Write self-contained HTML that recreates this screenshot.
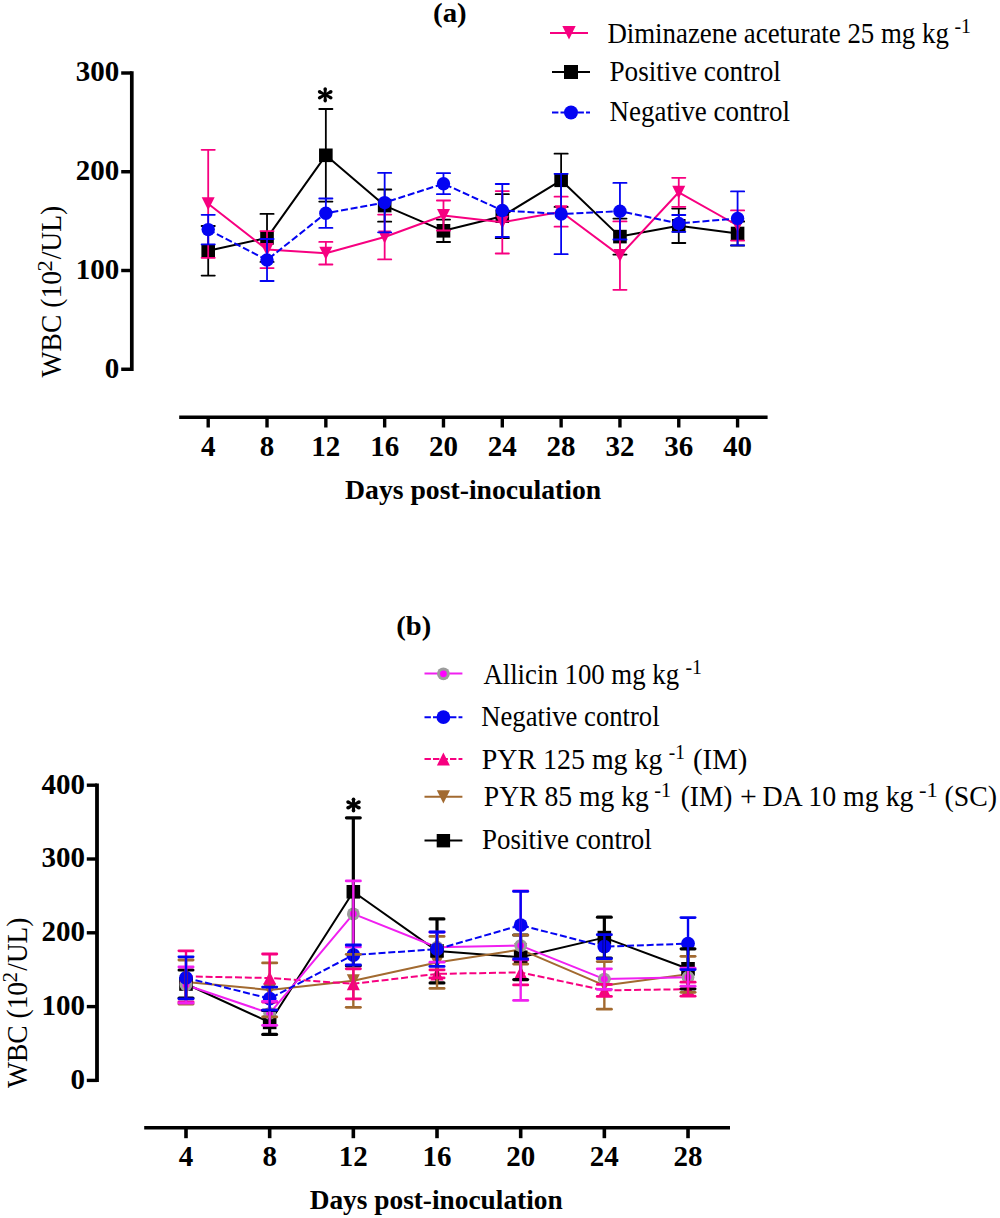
<!DOCTYPE html>
<html><head><meta charset="utf-8"><style>
html,body{margin:0;padding:0;background:#fff;}
body{width:1000px;height:1218px;overflow:hidden;}
svg{display:block;font-family:"Liberation Serif", serif;}
</style></head><body>
<svg width="1000" height="1218" viewBox="0 0 1000 1218">
<rect width="1000" height="1218" fill="#fff"/>
<line x1="131.8" y1="71.30" x2="131.8" y2="370.95" stroke="#000" stroke-width="3.7"/>
<line x1="121.2" y1="369.25" x2="131.8" y2="369.25" stroke="#000" stroke-width="3.45"/>
<text transform="translate(119.3,377.55) scale(0.98,1)" text-anchor="end" font-weight="bold" font-size="29.6">0</text>
<line x1="121.2" y1="270.50" x2="131.8" y2="270.50" stroke="#000" stroke-width="3.45"/>
<text transform="translate(119.3,278.80) scale(0.98,1)" text-anchor="end" font-weight="bold" font-size="29.6">100</text>
<line x1="121.2" y1="171.75" x2="131.8" y2="171.75" stroke="#000" stroke-width="3.45"/>
<text transform="translate(119.3,180.05) scale(0.98,1)" text-anchor="end" font-weight="bold" font-size="29.6">200</text>
<line x1="121.2" y1="73.00" x2="131.8" y2="73.00" stroke="#000" stroke-width="3.45"/>
<text transform="translate(119.3,81.30) scale(0.98,1)" text-anchor="end" font-weight="bold" font-size="29.6">300</text>
<line x1="179.2" y1="417.25" x2="767.6" y2="417.25" stroke="#000" stroke-width="3.6"/>
<line x1="208.20" y1="417" x2="208.20" y2="427.5" stroke="#000" stroke-width="3.4"/>
<text x="208.20" y="456.3" text-anchor="middle" font-weight="bold" font-size="29">4</text>
<line x1="267.02" y1="417" x2="267.02" y2="427.5" stroke="#000" stroke-width="3.4"/>
<text x="267.02" y="456.3" text-anchor="middle" font-weight="bold" font-size="29">8</text>
<line x1="325.84" y1="417" x2="325.84" y2="427.5" stroke="#000" stroke-width="3.4"/>
<text x="325.84" y="456.3" text-anchor="middle" font-weight="bold" font-size="29">12</text>
<line x1="384.66" y1="417" x2="384.66" y2="427.5" stroke="#000" stroke-width="3.4"/>
<text x="384.66" y="456.3" text-anchor="middle" font-weight="bold" font-size="29">16</text>
<line x1="443.48" y1="417" x2="443.48" y2="427.5" stroke="#000" stroke-width="3.4"/>
<text x="443.48" y="456.3" text-anchor="middle" font-weight="bold" font-size="29">20</text>
<line x1="502.30" y1="417" x2="502.30" y2="427.5" stroke="#000" stroke-width="3.4"/>
<text x="502.30" y="456.3" text-anchor="middle" font-weight="bold" font-size="29">24</text>
<line x1="561.12" y1="417" x2="561.12" y2="427.5" stroke="#000" stroke-width="3.4"/>
<text x="561.12" y="456.3" text-anchor="middle" font-weight="bold" font-size="29">28</text>
<line x1="619.94" y1="417" x2="619.94" y2="427.5" stroke="#000" stroke-width="3.4"/>
<text x="619.94" y="456.3" text-anchor="middle" font-weight="bold" font-size="29">32</text>
<line x1="678.76" y1="417" x2="678.76" y2="427.5" stroke="#000" stroke-width="3.4"/>
<text x="678.76" y="456.3" text-anchor="middle" font-weight="bold" font-size="29">36</text>
<line x1="737.58" y1="417" x2="737.58" y2="427.5" stroke="#000" stroke-width="3.4"/>
<text x="737.58" y="456.3" text-anchor="middle" font-weight="bold" font-size="29">40</text>
<g transform="translate(61.2,0) rotate(-90)"><text x="-377.40" y="0.00" font-size="29" font-weight="normal" textLength="106.42" lengthAdjust="spacingAndGlyphs">WBC (10</text><text x="-271.44" y="-9.00" font-size="21.5" font-weight="normal" textLength="11.23" lengthAdjust="spacingAndGlyphs">2</text><text x="-259.30" y="0.00" font-size="29" font-weight="normal" textLength="53.40" lengthAdjust="spacingAndGlyphs">/UL)</text></g>
<line x1="208.20" y1="226.00" x2="208.20" y2="275.60" stroke="#000" stroke-width="1.8"/><line x1="201.60" y1="226.00" x2="214.80" y2="226.00" stroke="#000" stroke-width="1.8" stroke-linecap="round"/><line x1="201.60" y1="275.60" x2="214.80" y2="275.60" stroke="#000" stroke-width="1.8" stroke-linecap="round"/><line x1="267.02" y1="213.90" x2="267.02" y2="261.90" stroke="#000" stroke-width="1.8"/><line x1="260.42" y1="213.90" x2="273.62" y2="213.90" stroke="#000" stroke-width="1.8" stroke-linecap="round"/><line x1="260.42" y1="261.90" x2="273.62" y2="261.90" stroke="#000" stroke-width="1.8" stroke-linecap="round"/><line x1="325.84" y1="109.00" x2="325.84" y2="201.60" stroke="#000" stroke-width="1.8"/><line x1="319.24" y1="109.00" x2="332.44" y2="109.00" stroke="#000" stroke-width="1.8" stroke-linecap="round"/><line x1="319.24" y1="201.60" x2="332.44" y2="201.60" stroke="#000" stroke-width="1.8" stroke-linecap="round"/><line x1="384.66" y1="189.50" x2="384.66" y2="221.70" stroke="#000" stroke-width="1.8"/><line x1="378.06" y1="189.50" x2="391.26" y2="189.50" stroke="#000" stroke-width="1.8" stroke-linecap="round"/><line x1="378.06" y1="221.70" x2="391.26" y2="221.70" stroke="#000" stroke-width="1.8" stroke-linecap="round"/><line x1="443.48" y1="219.60" x2="443.48" y2="242.00" stroke="#000" stroke-width="1.8"/><line x1="436.88" y1="219.60" x2="450.08" y2="219.60" stroke="#000" stroke-width="1.8" stroke-linecap="round"/><line x1="436.88" y1="242.00" x2="450.08" y2="242.00" stroke="#000" stroke-width="1.8" stroke-linecap="round"/><line x1="502.30" y1="194.20" x2="502.30" y2="238.20" stroke="#000" stroke-width="1.8"/><line x1="495.70" y1="194.20" x2="508.90" y2="194.20" stroke="#000" stroke-width="1.8" stroke-linecap="round"/><line x1="495.70" y1="238.20" x2="508.90" y2="238.20" stroke="#000" stroke-width="1.8" stroke-linecap="round"/><line x1="561.12" y1="153.70" x2="561.12" y2="206.90" stroke="#000" stroke-width="1.8"/><line x1="554.52" y1="153.70" x2="567.72" y2="153.70" stroke="#000" stroke-width="1.8" stroke-linecap="round"/><line x1="554.52" y1="206.90" x2="567.72" y2="206.90" stroke="#000" stroke-width="1.8" stroke-linecap="round"/><line x1="619.94" y1="218.60" x2="619.94" y2="254.60" stroke="#000" stroke-width="1.8"/><line x1="613.34" y1="218.60" x2="626.54" y2="218.60" stroke="#000" stroke-width="1.8" stroke-linecap="round"/><line x1="613.34" y1="254.60" x2="626.54" y2="254.60" stroke="#000" stroke-width="1.8" stroke-linecap="round"/><line x1="678.76" y1="208.60" x2="678.76" y2="243.00" stroke="#000" stroke-width="1.8"/><line x1="672.16" y1="208.60" x2="685.36" y2="208.60" stroke="#000" stroke-width="1.8" stroke-linecap="round"/><line x1="672.16" y1="243.00" x2="685.36" y2="243.00" stroke="#000" stroke-width="1.8" stroke-linecap="round"/><line x1="737.58" y1="221.50" x2="737.58" y2="245.50" stroke="#000" stroke-width="1.8"/><line x1="730.98" y1="221.50" x2="744.18" y2="221.50" stroke="#000" stroke-width="1.8" stroke-linecap="round"/><line x1="730.98" y1="245.50" x2="744.18" y2="245.50" stroke="#000" stroke-width="1.8" stroke-linecap="round"/>
<polyline points="208.20,250.80 267.02,237.90 325.84,155.30 384.66,205.60 443.48,230.80 502.30,216.20 561.12,180.30 619.94,236.60 678.76,225.80 737.58,233.50" fill="none" stroke="#000" stroke-width="2" stroke-linejoin="round"/>
<rect x="201.40" y="244.00" width="13.60" height="13.60" fill="#000"/><rect x="260.22" y="231.10" width="13.60" height="13.60" fill="#000"/><rect x="319.04" y="148.50" width="13.60" height="13.60" fill="#000"/><rect x="377.86" y="198.80" width="13.60" height="13.60" fill="#000"/><rect x="436.68" y="224.00" width="13.60" height="13.60" fill="#000"/><rect x="495.50" y="209.40" width="13.60" height="13.60" fill="#000"/><rect x="554.32" y="173.50" width="13.60" height="13.60" fill="#000"/><rect x="613.14" y="229.80" width="13.60" height="13.60" fill="#000"/><rect x="671.96" y="219.00" width="13.60" height="13.60" fill="#000"/><rect x="730.78" y="226.70" width="13.60" height="13.60" fill="#000"/>
<line x1="208.20" y1="149.80" x2="208.20" y2="257.80" stroke="#f70080" stroke-width="1.8"/><line x1="201.60" y1="149.80" x2="214.80" y2="149.80" stroke="#f70080" stroke-width="1.8" stroke-linecap="round"/><line x1="201.60" y1="257.80" x2="214.80" y2="257.80" stroke="#f70080" stroke-width="1.8" stroke-linecap="round"/><line x1="267.02" y1="231.10" x2="267.02" y2="268.10" stroke="#f70080" stroke-width="1.8"/><line x1="260.42" y1="231.10" x2="273.62" y2="231.10" stroke="#f70080" stroke-width="1.8" stroke-linecap="round"/><line x1="260.42" y1="268.10" x2="273.62" y2="268.10" stroke="#f70080" stroke-width="1.8" stroke-linecap="round"/><line x1="325.84" y1="241.90" x2="325.84" y2="264.50" stroke="#f70080" stroke-width="1.8"/><line x1="319.24" y1="241.90" x2="332.44" y2="241.90" stroke="#f70080" stroke-width="1.8" stroke-linecap="round"/><line x1="319.24" y1="264.50" x2="332.44" y2="264.50" stroke="#f70080" stroke-width="1.8" stroke-linecap="round"/><line x1="384.66" y1="214.60" x2="384.66" y2="259.40" stroke="#f70080" stroke-width="1.8"/><line x1="378.06" y1="214.60" x2="391.26" y2="214.60" stroke="#f70080" stroke-width="1.8" stroke-linecap="round"/><line x1="378.06" y1="259.40" x2="391.26" y2="259.40" stroke="#f70080" stroke-width="1.8" stroke-linecap="round"/><line x1="443.48" y1="200.50" x2="443.48" y2="230.50" stroke="#f70080" stroke-width="1.8"/><line x1="436.88" y1="200.50" x2="450.08" y2="200.50" stroke="#f70080" stroke-width="1.8" stroke-linecap="round"/><line x1="436.88" y1="230.50" x2="450.08" y2="230.50" stroke="#f70080" stroke-width="1.8" stroke-linecap="round"/><line x1="502.30" y1="191.10" x2="502.30" y2="253.50" stroke="#f70080" stroke-width="1.8"/><line x1="495.70" y1="191.10" x2="508.90" y2="191.10" stroke="#f70080" stroke-width="1.8" stroke-linecap="round"/><line x1="495.70" y1="253.50" x2="508.90" y2="253.50" stroke="#f70080" stroke-width="1.8" stroke-linecap="round"/><line x1="561.12" y1="196.70" x2="561.12" y2="226.70" stroke="#f70080" stroke-width="1.8"/><line x1="554.52" y1="196.70" x2="567.72" y2="196.70" stroke="#f70080" stroke-width="1.8" stroke-linecap="round"/><line x1="554.52" y1="226.70" x2="567.72" y2="226.70" stroke="#f70080" stroke-width="1.8" stroke-linecap="round"/><line x1="619.94" y1="221.40" x2="619.94" y2="289.80" stroke="#f70080" stroke-width="1.8"/><line x1="613.34" y1="221.40" x2="626.54" y2="221.40" stroke="#f70080" stroke-width="1.8" stroke-linecap="round"/><line x1="613.34" y1="289.80" x2="626.54" y2="289.80" stroke="#f70080" stroke-width="1.8" stroke-linecap="round"/><line x1="678.76" y1="177.80" x2="678.76" y2="206.80" stroke="#f70080" stroke-width="1.8"/><line x1="672.16" y1="177.80" x2="685.36" y2="177.80" stroke="#f70080" stroke-width="1.8" stroke-linecap="round"/><line x1="672.16" y1="206.80" x2="685.36" y2="206.80" stroke="#f70080" stroke-width="1.8" stroke-linecap="round"/><line x1="737.58" y1="210.40" x2="737.58" y2="240.60" stroke="#f70080" stroke-width="1.8"/><line x1="730.98" y1="210.40" x2="744.18" y2="210.40" stroke="#f70080" stroke-width="1.8" stroke-linecap="round"/><line x1="730.98" y1="240.60" x2="744.18" y2="240.60" stroke="#f70080" stroke-width="1.8" stroke-linecap="round"/>
<polyline points="208.20,203.80 267.02,249.60 325.84,253.20 384.66,237.00 443.48,215.50 502.30,222.30 561.12,211.70 619.94,255.60 678.76,192.30 737.58,225.50" fill="none" stroke="#f70080" stroke-width="2" stroke-linejoin="round"/>
<path d="M201.70,197.30 L214.70,197.30 L208.20,210.30 Z" fill="#f70080"/><path d="M260.52,243.10 L273.52,243.10 L267.02,256.10 Z" fill="#f70080"/><path d="M319.34,246.70 L332.34,246.70 L325.84,259.70 Z" fill="#f70080"/><path d="M378.16,230.50 L391.16,230.50 L384.66,243.50 Z" fill="#f70080"/><path d="M436.98,209.00 L449.98,209.00 L443.48,222.00 Z" fill="#f70080"/><path d="M495.80,215.80 L508.80,215.80 L502.30,228.80 Z" fill="#f70080"/><path d="M554.62,205.20 L567.62,205.20 L561.12,218.20 Z" fill="#f70080"/><path d="M613.44,249.10 L626.44,249.10 L619.94,262.10 Z" fill="#f70080"/><path d="M672.26,185.80 L685.26,185.80 L678.76,198.80 Z" fill="#f70080"/><path d="M731.08,219.00 L744.08,219.00 L737.58,232.00 Z" fill="#f70080"/>
<line x1="208.20" y1="214.80" x2="208.20" y2="244.40" stroke="#0404f2" stroke-width="1.8"/><line x1="201.60" y1="214.80" x2="214.80" y2="214.80" stroke="#0404f2" stroke-width="1.8" stroke-linecap="round"/><line x1="201.60" y1="244.40" x2="214.80" y2="244.40" stroke="#0404f2" stroke-width="1.8" stroke-linecap="round"/><line x1="267.02" y1="239.00" x2="267.02" y2="281.00" stroke="#0404f2" stroke-width="1.8"/><line x1="260.42" y1="239.00" x2="273.62" y2="239.00" stroke="#0404f2" stroke-width="1.8" stroke-linecap="round"/><line x1="260.42" y1="281.00" x2="273.62" y2="281.00" stroke="#0404f2" stroke-width="1.8" stroke-linecap="round"/><line x1="325.84" y1="198.50" x2="325.84" y2="227.90" stroke="#0404f2" stroke-width="1.8"/><line x1="319.24" y1="198.50" x2="332.44" y2="198.50" stroke="#0404f2" stroke-width="1.8" stroke-linecap="round"/><line x1="319.24" y1="227.90" x2="332.44" y2="227.90" stroke="#0404f2" stroke-width="1.8" stroke-linecap="round"/><line x1="384.66" y1="172.90" x2="384.66" y2="232.30" stroke="#0404f2" stroke-width="1.8"/><line x1="378.06" y1="172.90" x2="391.26" y2="172.90" stroke="#0404f2" stroke-width="1.8" stroke-linecap="round"/><line x1="378.06" y1="232.30" x2="391.26" y2="232.30" stroke="#0404f2" stroke-width="1.8" stroke-linecap="round"/><line x1="443.48" y1="173.20" x2="443.48" y2="194.20" stroke="#0404f2" stroke-width="1.8"/><line x1="436.88" y1="173.20" x2="450.08" y2="173.20" stroke="#0404f2" stroke-width="1.8" stroke-linecap="round"/><line x1="436.88" y1="194.20" x2="450.08" y2="194.20" stroke="#0404f2" stroke-width="1.8" stroke-linecap="round"/><line x1="502.30" y1="184.00" x2="502.30" y2="237.00" stroke="#0404f2" stroke-width="1.8"/><line x1="495.70" y1="184.00" x2="508.90" y2="184.00" stroke="#0404f2" stroke-width="1.8" stroke-linecap="round"/><line x1="495.70" y1="237.00" x2="508.90" y2="237.00" stroke="#0404f2" stroke-width="1.8" stroke-linecap="round"/><line x1="561.12" y1="173.80" x2="561.12" y2="254.20" stroke="#0404f2" stroke-width="1.8"/><line x1="554.52" y1="173.80" x2="567.72" y2="173.80" stroke="#0404f2" stroke-width="1.8" stroke-linecap="round"/><line x1="554.52" y1="254.20" x2="567.72" y2="254.20" stroke="#0404f2" stroke-width="1.8" stroke-linecap="round"/><line x1="619.94" y1="182.90" x2="619.94" y2="239.50" stroke="#0404f2" stroke-width="1.8"/><line x1="613.34" y1="182.90" x2="626.54" y2="182.90" stroke="#0404f2" stroke-width="1.8" stroke-linecap="round"/><line x1="613.34" y1="239.50" x2="626.54" y2="239.50" stroke="#0404f2" stroke-width="1.8" stroke-linecap="round"/><line x1="678.76" y1="215.00" x2="678.76" y2="231.80" stroke="#0404f2" stroke-width="1.8"/><line x1="672.16" y1="215.00" x2="685.36" y2="215.00" stroke="#0404f2" stroke-width="1.8" stroke-linecap="round"/><line x1="672.16" y1="231.80" x2="685.36" y2="231.80" stroke="#0404f2" stroke-width="1.8" stroke-linecap="round"/><line x1="737.58" y1="191.40" x2="737.58" y2="245.40" stroke="#0404f2" stroke-width="1.8"/><line x1="730.98" y1="191.40" x2="744.18" y2="191.40" stroke="#0404f2" stroke-width="1.8" stroke-linecap="round"/><line x1="730.98" y1="245.40" x2="744.18" y2="245.40" stroke="#0404f2" stroke-width="1.8" stroke-linecap="round"/>
<polyline points="208.20,229.60 267.02,260.00 325.84,213.20 384.66,202.60 443.48,183.70 502.30,210.50 561.12,214.00 619.94,211.20 678.76,223.40 737.58,218.40" fill="none" stroke="#0404f2" stroke-width="2" stroke-linejoin="round" stroke-dasharray="7,2.8"/>
<circle cx="208.20" cy="229.60" r="6.70" fill="#0404f2"/><circle cx="267.02" cy="260.00" r="6.70" fill="#0404f2"/><circle cx="325.84" cy="213.20" r="6.70" fill="#0404f2"/><circle cx="384.66" cy="202.60" r="6.70" fill="#0404f2"/><circle cx="443.48" cy="183.70" r="6.70" fill="#0404f2"/><circle cx="502.30" cy="210.50" r="6.70" fill="#0404f2"/><circle cx="561.12" cy="214.00" r="6.70" fill="#0404f2"/><circle cx="619.94" cy="211.20" r="6.70" fill="#0404f2"/><circle cx="678.76" cy="223.40" r="6.70" fill="#0404f2"/><circle cx="737.58" cy="218.40" r="6.70" fill="#0404f2"/>
<path d="M326.32,94.80 L326.85,88.85 L323.55,88.85 L324.07,94.80 Z" fill="#000"/><circle cx="325.20" cy="88.85" r="1.65" fill="#000"/><path d="M324.07,94.80 L323.55,100.75 L326.85,100.75 L326.32,94.80 Z" fill="#000"/><circle cx="325.20" cy="100.75" r="1.65" fill="#000"/><path d="M325.73,95.79 L331.67,93.23 L330.12,90.32 L324.67,93.81 Z" fill="#000"/><circle cx="330.90" cy="91.77" r="1.65" fill="#000"/><path d="M325.73,93.81 L320.28,90.32 L318.73,93.23 L324.67,95.79 Z" fill="#000"/><circle cx="319.50" cy="91.77" r="1.65" fill="#000"/><path d="M324.67,93.81 L318.73,96.37 L320.28,99.28 L325.73,95.79 Z" fill="#000"/><circle cx="319.50" cy="97.83" r="1.65" fill="#000"/><path d="M324.67,95.79 L330.12,99.28 L331.67,96.37 L325.73,93.81 Z" fill="#000"/><circle cx="330.90" cy="97.83" r="1.65" fill="#000"/><circle cx="325.20" cy="94.80" r="2.02" fill="#000"/>
<line x1="550" y1="33" x2="588" y2="33" stroke="#f70080" stroke-width="2"/><path d="M562.30,26.05 L575.70,26.05 L569.00,39.45 Z" fill="#f70080"/>
<line x1="552" y1="72" x2="590" y2="72" stroke="#000" stroke-width="2"/><rect x="564.00" y="65.00" width="14.00" height="14.00" fill="#000"/>
<line x1="552" y1="112.5" x2="590" y2="112.5" stroke="#0404f2" stroke-width="2" stroke-dasharray="6.4,2.1"/><circle cx="571.00" cy="112.50" r="7.00" fill="#0404f2"/>
<line x1="97" y1="783.50" x2="97" y2="1082.10" stroke="#000" stroke-width="3.8"/>
<line x1="86.8" y1="1080.40" x2="97" y2="1080.40" stroke="#000" stroke-width="3.4"/>
<text transform="translate(84.9,1088.70) scale(0.98,1)" text-anchor="end" font-weight="bold" font-size="29.6">0</text>
<line x1="86.8" y1="1006.60" x2="97" y2="1006.60" stroke="#000" stroke-width="3.4"/>
<text transform="translate(84.9,1014.90) scale(0.98,1)" text-anchor="end" font-weight="bold" font-size="29.6">100</text>
<line x1="86.8" y1="932.80" x2="97" y2="932.80" stroke="#000" stroke-width="3.4"/>
<text transform="translate(84.9,941.10) scale(0.98,1)" text-anchor="end" font-weight="bold" font-size="29.6">200</text>
<line x1="86.8" y1="859.00" x2="97" y2="859.00" stroke="#000" stroke-width="3.4"/>
<text transform="translate(84.9,867.30) scale(0.98,1)" text-anchor="end" font-weight="bold" font-size="29.6">300</text>
<line x1="86.8" y1="785.20" x2="97" y2="785.20" stroke="#000" stroke-width="3.4"/>
<text transform="translate(84.9,793.50) scale(0.98,1)" text-anchor="end" font-weight="bold" font-size="29.6">400</text>
<line x1="144.2" y1="1127.8" x2="730" y2="1127.8" stroke="#000" stroke-width="3.6"/>
<line x1="186.00" y1="1128" x2="186.00" y2="1138.2" stroke="#000" stroke-width="3.6"/>
<text x="186.00" y="1166.3" text-anchor="middle" font-weight="bold" font-size="29">4</text>
<line x1="269.67" y1="1128" x2="269.67" y2="1138.2" stroke="#000" stroke-width="3.6"/>
<text x="269.67" y="1166.3" text-anchor="middle" font-weight="bold" font-size="29">8</text>
<line x1="353.34" y1="1128" x2="353.34" y2="1138.2" stroke="#000" stroke-width="3.6"/>
<text x="353.34" y="1166.3" text-anchor="middle" font-weight="bold" font-size="29">12</text>
<line x1="437.01" y1="1128" x2="437.01" y2="1138.2" stroke="#000" stroke-width="3.6"/>
<text x="437.01" y="1166.3" text-anchor="middle" font-weight="bold" font-size="29">16</text>
<line x1="520.68" y1="1128" x2="520.68" y2="1138.2" stroke="#000" stroke-width="3.6"/>
<text x="520.68" y="1166.3" text-anchor="middle" font-weight="bold" font-size="29">20</text>
<line x1="604.35" y1="1128" x2="604.35" y2="1138.2" stroke="#000" stroke-width="3.6"/>
<text x="604.35" y="1166.3" text-anchor="middle" font-weight="bold" font-size="29">24</text>
<line x1="688.02" y1="1128" x2="688.02" y2="1138.2" stroke="#000" stroke-width="3.6"/>
<text x="688.02" y="1166.3" text-anchor="middle" font-weight="bold" font-size="29">28</text>
<g transform="translate(26.8,0) rotate(-90)"><text x="-1088.00" y="0.00" font-size="29" font-weight="normal" textLength="106.12" lengthAdjust="spacingAndGlyphs">WBC (10</text><text x="-982.48" y="-9.80" font-size="21.5" font-weight="normal" textLength="10.51" lengthAdjust="spacingAndGlyphs">2</text><text x="-970.70" y="0.00" font-size="29" font-weight="normal" textLength="52.99" lengthAdjust="spacingAndGlyphs">/UL)</text></g>
<polyline points="186.00,984.00 269.67,1022.40 353.34,891.80 437.01,950.90 520.68,957.30 604.35,937.60 688.02,968.80" fill="none" stroke="#000" stroke-width="2" stroke-linejoin="round"/>
<polyline points="186.00,982.00 269.67,989.90 353.34,980.80 437.01,962.40 520.68,949.60 604.35,985.40 688.02,974.30" fill="none" stroke="#a26a30" stroke-width="2" stroke-linejoin="round"/>
<polyline points="186.00,976.40 269.67,978.00 353.34,983.80 437.01,973.90 520.68,972.40 604.35,990.40 688.02,989.20" fill="none" stroke="#f70080" stroke-width="2" stroke-linejoin="round" stroke-dasharray="7,2.8"/>
<polyline points="186.00,985.00 269.67,1013.30 353.34,913.90 437.01,947.20 520.68,945.60 604.35,979.10 688.02,977.20" fill="none" stroke="#f020f0" stroke-width="2" stroke-linejoin="round"/>
<polyline points="186.00,977.80 269.67,998.60 353.34,955.00 437.01,949.20 520.68,925.20 604.35,946.70 688.02,943.60" fill="none" stroke="#0404f2" stroke-width="2" stroke-linejoin="round" stroke-dasharray="7,2.8"/>
<path d="M179.50,975.50 L192.50,975.50 L186.00,988.50 Z" fill="#a26a30"/><path d="M263.17,983.40 L276.17,983.40 L269.67,996.40 Z" fill="#a26a30"/><path d="M346.84,974.30 L359.84,974.30 L353.34,987.30 Z" fill="#a26a30"/><path d="M430.51,955.90 L443.51,955.90 L437.01,968.90 Z" fill="#a26a30"/><path d="M514.18,943.10 L527.18,943.10 L520.68,956.10 Z" fill="#a26a30"/><path d="M597.85,978.90 L610.85,978.90 L604.35,991.90 Z" fill="#a26a30"/><path d="M681.52,967.80 L694.52,967.80 L688.02,980.80 Z" fill="#a26a30"/>
<rect x="179.20" y="977.20" width="13.60" height="13.60" fill="#000"/><rect x="262.87" y="1015.60" width="13.60" height="13.60" fill="#000"/><rect x="346.54" y="885.00" width="13.60" height="13.60" fill="#000"/><rect x="430.21" y="944.10" width="13.60" height="13.60" fill="#000"/><rect x="513.88" y="950.50" width="13.60" height="13.60" fill="#000"/><rect x="597.55" y="930.80" width="13.60" height="13.60" fill="#000"/><rect x="681.22" y="962.00" width="13.60" height="13.60" fill="#000"/>
<path d="M179.50,982.90 L192.50,982.90 L186.00,969.90 Z" fill="#f70080"/><path d="M263.17,984.50 L276.17,984.50 L269.67,971.50 Z" fill="#f70080"/><path d="M346.84,990.30 L359.84,990.30 L353.34,977.30 Z" fill="#f70080"/><path d="M430.51,980.40 L443.51,980.40 L437.01,967.40 Z" fill="#f70080"/><path d="M514.18,978.90 L527.18,978.90 L520.68,965.90 Z" fill="#f70080"/><path d="M597.85,996.90 L610.85,996.90 L604.35,983.90 Z" fill="#f70080"/><path d="M681.52,995.70 L694.52,995.70 L688.02,982.70 Z" fill="#f70080"/>
<circle cx="186.00" cy="985.00" r="6.40" fill="#9c9c9c"/><circle cx="186.00" cy="985.00" r="3.39" fill="#ff00ff"/><circle cx="269.67" cy="1013.30" r="6.40" fill="#9c9c9c"/><circle cx="269.67" cy="1013.30" r="3.39" fill="#ff00ff"/><circle cx="353.34" cy="913.90" r="6.40" fill="#9c9c9c"/><circle cx="353.34" cy="913.90" r="3.39" fill="#ff00ff"/><circle cx="437.01" cy="947.20" r="6.40" fill="#9c9c9c"/><circle cx="437.01" cy="947.20" r="3.39" fill="#ff00ff"/><circle cx="520.68" cy="945.60" r="6.40" fill="#9c9c9c"/><circle cx="520.68" cy="945.60" r="3.39" fill="#ff00ff"/><circle cx="604.35" cy="979.10" r="6.40" fill="#9c9c9c"/><circle cx="604.35" cy="979.10" r="3.39" fill="#ff00ff"/><circle cx="688.02" cy="977.20" r="6.40" fill="#9c9c9c"/><circle cx="688.02" cy="977.20" r="3.39" fill="#ff00ff"/>
<circle cx="186.00" cy="977.80" r="6.90" fill="#0404f2"/><circle cx="269.67" cy="998.60" r="6.90" fill="#0404f2"/><circle cx="353.34" cy="955.00" r="6.90" fill="#0404f2"/><circle cx="437.01" cy="949.20" r="6.90" fill="#0404f2"/><circle cx="520.68" cy="925.20" r="6.90" fill="#0404f2"/><circle cx="604.35" cy="946.70" r="6.90" fill="#0404f2"/><circle cx="688.02" cy="943.60" r="6.90" fill="#0404f2"/>
<line x1="186.00" y1="970.00" x2="186.00" y2="998.00" stroke="#000" stroke-width="3.2"/><line x1="179.10" y1="970.00" x2="192.90" y2="970.00" stroke="#000" stroke-width="3.2" stroke-linecap="round"/><line x1="179.10" y1="998.00" x2="192.90" y2="998.00" stroke="#000" stroke-width="3.2" stroke-linecap="round"/><line x1="269.67" y1="1010.40" x2="269.67" y2="1034.40" stroke="#000" stroke-width="3.2"/><line x1="262.77" y1="1010.40" x2="276.57" y2="1010.40" stroke="#000" stroke-width="3.2" stroke-linecap="round"/><line x1="262.77" y1="1034.40" x2="276.57" y2="1034.40" stroke="#000" stroke-width="3.2" stroke-linecap="round"/><line x1="353.34" y1="817.80" x2="353.34" y2="965.80" stroke="#000" stroke-width="3.2"/><line x1="346.44" y1="817.80" x2="360.24" y2="817.80" stroke="#000" stroke-width="3.2" stroke-linecap="round"/><line x1="346.44" y1="965.80" x2="360.24" y2="965.80" stroke="#000" stroke-width="3.2" stroke-linecap="round"/><line x1="437.01" y1="918.90" x2="437.01" y2="982.90" stroke="#000" stroke-width="3.2"/><line x1="430.11" y1="918.90" x2="443.91" y2="918.90" stroke="#000" stroke-width="3.2" stroke-linecap="round"/><line x1="430.11" y1="982.90" x2="443.91" y2="982.90" stroke="#000" stroke-width="3.2" stroke-linecap="round"/><line x1="520.68" y1="935.00" x2="520.68" y2="979.60" stroke="#000" stroke-width="3.2"/><line x1="513.78" y1="935.00" x2="527.58" y2="935.00" stroke="#000" stroke-width="3.2" stroke-linecap="round"/><line x1="513.78" y1="979.60" x2="527.58" y2="979.60" stroke="#000" stroke-width="3.2" stroke-linecap="round"/><line x1="604.35" y1="917.20" x2="604.35" y2="958.00" stroke="#000" stroke-width="3.2"/><line x1="597.45" y1="917.20" x2="611.25" y2="917.20" stroke="#000" stroke-width="3.2" stroke-linecap="round"/><line x1="597.45" y1="958.00" x2="611.25" y2="958.00" stroke="#000" stroke-width="3.2" stroke-linecap="round"/><line x1="688.02" y1="948.80" x2="688.02" y2="988.80" stroke="#000" stroke-width="3.2"/><line x1="681.12" y1="948.80" x2="694.92" y2="948.80" stroke="#000" stroke-width="3.2" stroke-linecap="round"/><line x1="681.12" y1="988.80" x2="694.92" y2="988.80" stroke="#000" stroke-width="3.2" stroke-linecap="round"/>
<line x1="186.00" y1="960.00" x2="186.00" y2="1004.00" stroke="#a26a30" stroke-width="2.4"/><line x1="178.90" y1="960.00" x2="193.10" y2="960.00" stroke="#a26a30" stroke-width="2.8" stroke-linecap="round"/><line x1="178.90" y1="1004.00" x2="193.10" y2="1004.00" stroke="#a26a30" stroke-width="2.8" stroke-linecap="round"/><line x1="269.67" y1="962.90" x2="269.67" y2="1016.90" stroke="#a26a30" stroke-width="2.4"/><line x1="262.57" y1="962.90" x2="276.77" y2="962.90" stroke="#a26a30" stroke-width="2.8" stroke-linecap="round"/><line x1="262.57" y1="1016.90" x2="276.77" y2="1016.90" stroke="#a26a30" stroke-width="2.8" stroke-linecap="round"/><line x1="353.34" y1="954.30" x2="353.34" y2="1007.30" stroke="#a26a30" stroke-width="2.4"/><line x1="346.24" y1="954.30" x2="360.44" y2="954.30" stroke="#a26a30" stroke-width="2.8" stroke-linecap="round"/><line x1="346.24" y1="1007.30" x2="360.44" y2="1007.30" stroke="#a26a30" stroke-width="2.8" stroke-linecap="round"/><line x1="437.01" y1="936.40" x2="437.01" y2="988.40" stroke="#a26a30" stroke-width="2.4"/><line x1="429.91" y1="936.40" x2="444.11" y2="936.40" stroke="#a26a30" stroke-width="2.8" stroke-linecap="round"/><line x1="429.91" y1="988.40" x2="444.11" y2="988.40" stroke="#a26a30" stroke-width="2.8" stroke-linecap="round"/><line x1="520.68" y1="935.10" x2="520.68" y2="964.10" stroke="#a26a30" stroke-width="2.4"/><line x1="513.58" y1="935.10" x2="527.78" y2="935.10" stroke="#a26a30" stroke-width="2.8" stroke-linecap="round"/><line x1="513.58" y1="964.10" x2="527.78" y2="964.10" stroke="#a26a30" stroke-width="2.8" stroke-linecap="round"/><line x1="604.35" y1="961.60" x2="604.35" y2="1009.20" stroke="#a26a30" stroke-width="2.4"/><line x1="597.25" y1="961.60" x2="611.45" y2="961.60" stroke="#a26a30" stroke-width="2.8" stroke-linecap="round"/><line x1="597.25" y1="1009.20" x2="611.45" y2="1009.20" stroke="#a26a30" stroke-width="2.8" stroke-linecap="round"/><line x1="688.02" y1="956.30" x2="688.02" y2="992.30" stroke="#a26a30" stroke-width="2.4"/><line x1="680.92" y1="956.30" x2="695.12" y2="956.30" stroke="#a26a30" stroke-width="2.8" stroke-linecap="round"/><line x1="680.92" y1="992.30" x2="695.12" y2="992.30" stroke="#a26a30" stroke-width="2.8" stroke-linecap="round"/>
<line x1="186.00" y1="950.80" x2="186.00" y2="1002.00" stroke="#f70080" stroke-width="2.4"/><line x1="178.90" y1="950.80" x2="193.10" y2="950.80" stroke="#f70080" stroke-width="2.8" stroke-linecap="round"/><line x1="178.90" y1="1002.00" x2="193.10" y2="1002.00" stroke="#f70080" stroke-width="2.8" stroke-linecap="round"/><line x1="269.67" y1="954.00" x2="269.67" y2="1002.00" stroke="#f70080" stroke-width="2.4"/><line x1="262.57" y1="954.00" x2="276.77" y2="954.00" stroke="#f70080" stroke-width="2.8" stroke-linecap="round"/><line x1="262.57" y1="1002.00" x2="276.77" y2="1002.00" stroke="#f70080" stroke-width="2.8" stroke-linecap="round"/><line x1="353.34" y1="968.80" x2="353.34" y2="998.80" stroke="#f70080" stroke-width="2.4"/><line x1="346.24" y1="968.80" x2="360.44" y2="968.80" stroke="#f70080" stroke-width="2.8" stroke-linecap="round"/><line x1="346.24" y1="998.80" x2="360.44" y2="998.80" stroke="#f70080" stroke-width="2.8" stroke-linecap="round"/><line x1="437.01" y1="969.90" x2="437.01" y2="977.90" stroke="#f70080" stroke-width="2.4"/><line x1="429.91" y1="969.90" x2="444.11" y2="969.90" stroke="#f70080" stroke-width="2.8" stroke-linecap="round"/><line x1="429.91" y1="977.90" x2="444.11" y2="977.90" stroke="#f70080" stroke-width="2.8" stroke-linecap="round"/><line x1="520.68" y1="959.90" x2="520.68" y2="984.90" stroke="#f70080" stroke-width="2.4"/><line x1="513.58" y1="959.90" x2="527.78" y2="959.90" stroke="#f70080" stroke-width="2.8" stroke-linecap="round"/><line x1="513.58" y1="984.90" x2="527.78" y2="984.90" stroke="#f70080" stroke-width="2.8" stroke-linecap="round"/><line x1="604.35" y1="984.40" x2="604.35" y2="996.40" stroke="#f70080" stroke-width="2.4"/><line x1="597.25" y1="984.40" x2="611.45" y2="984.40" stroke="#f70080" stroke-width="2.8" stroke-linecap="round"/><line x1="597.25" y1="996.40" x2="611.45" y2="996.40" stroke="#f70080" stroke-width="2.8" stroke-linecap="round"/><line x1="688.02" y1="982.20" x2="688.02" y2="996.20" stroke="#f70080" stroke-width="2.4"/><line x1="680.92" y1="982.20" x2="695.12" y2="982.20" stroke="#f70080" stroke-width="2.8" stroke-linecap="round"/><line x1="680.92" y1="996.20" x2="695.12" y2="996.20" stroke="#f70080" stroke-width="2.8" stroke-linecap="round"/>
<line x1="186.00" y1="967.00" x2="186.00" y2="1003.00" stroke="#f020f0" stroke-width="2.4"/><line x1="178.90" y1="967.00" x2="193.10" y2="967.00" stroke="#f020f0" stroke-width="2.8" stroke-linecap="round"/><line x1="178.90" y1="1003.00" x2="193.10" y2="1003.00" stroke="#f020f0" stroke-width="2.8" stroke-linecap="round"/><line x1="269.67" y1="1001.30" x2="269.67" y2="1025.30" stroke="#f020f0" stroke-width="2.4"/><line x1="262.57" y1="1001.30" x2="276.77" y2="1001.30" stroke="#f020f0" stroke-width="2.8" stroke-linecap="round"/><line x1="262.57" y1="1025.30" x2="276.77" y2="1025.30" stroke="#f020f0" stroke-width="2.8" stroke-linecap="round"/><line x1="353.34" y1="880.90" x2="353.34" y2="946.90" stroke="#f020f0" stroke-width="2.4"/><line x1="346.24" y1="880.90" x2="360.44" y2="880.90" stroke="#f020f0" stroke-width="2.8" stroke-linecap="round"/><line x1="346.24" y1="946.90" x2="360.44" y2="946.90" stroke="#f020f0" stroke-width="2.8" stroke-linecap="round"/><line x1="437.01" y1="932.20" x2="437.01" y2="962.20" stroke="#f020f0" stroke-width="2.4"/><line x1="429.91" y1="932.20" x2="444.11" y2="932.20" stroke="#f020f0" stroke-width="2.8" stroke-linecap="round"/><line x1="429.91" y1="962.20" x2="444.11" y2="962.20" stroke="#f020f0" stroke-width="2.8" stroke-linecap="round"/><line x1="520.68" y1="890.80" x2="520.68" y2="1000.40" stroke="#f020f0" stroke-width="2.4"/><line x1="513.58" y1="890.80" x2="527.78" y2="890.80" stroke="#f020f0" stroke-width="2.8" stroke-linecap="round"/><line x1="513.58" y1="1000.40" x2="527.78" y2="1000.40" stroke="#f020f0" stroke-width="2.8" stroke-linecap="round"/><line x1="604.35" y1="968.80" x2="604.35" y2="989.40" stroke="#f020f0" stroke-width="2.4"/><line x1="597.25" y1="968.80" x2="611.45" y2="968.80" stroke="#f020f0" stroke-width="2.8" stroke-linecap="round"/><line x1="597.25" y1="989.40" x2="611.45" y2="989.40" stroke="#f020f0" stroke-width="2.8" stroke-linecap="round"/><line x1="688.02" y1="968.20" x2="688.02" y2="986.20" stroke="#f020f0" stroke-width="2.4"/><line x1="680.92" y1="968.20" x2="695.12" y2="968.20" stroke="#f020f0" stroke-width="2.8" stroke-linecap="round"/><line x1="680.92" y1="986.20" x2="695.12" y2="986.20" stroke="#f020f0" stroke-width="2.8" stroke-linecap="round"/>
<line x1="186.00" y1="956.80" x2="186.00" y2="998.80" stroke="#0404f2" stroke-width="2.4"/><line x1="178.90" y1="956.80" x2="193.10" y2="956.80" stroke="#0404f2" stroke-width="2.8" stroke-linecap="round"/><line x1="178.90" y1="998.80" x2="193.10" y2="998.80" stroke="#0404f2" stroke-width="2.8" stroke-linecap="round"/><line x1="269.67" y1="987.10" x2="269.67" y2="1010.10" stroke="#0404f2" stroke-width="2.4"/><line x1="262.57" y1="987.10" x2="276.77" y2="987.10" stroke="#0404f2" stroke-width="2.8" stroke-linecap="round"/><line x1="262.57" y1="1010.10" x2="276.77" y2="1010.10" stroke="#0404f2" stroke-width="2.8" stroke-linecap="round"/><line x1="353.34" y1="945.00" x2="353.34" y2="965.00" stroke="#0404f2" stroke-width="2.4"/><line x1="346.24" y1="945.00" x2="360.44" y2="945.00" stroke="#0404f2" stroke-width="2.8" stroke-linecap="round"/><line x1="346.24" y1="965.00" x2="360.44" y2="965.00" stroke="#0404f2" stroke-width="2.8" stroke-linecap="round"/><line x1="437.01" y1="932.00" x2="437.01" y2="966.40" stroke="#0404f2" stroke-width="2.4"/><line x1="429.91" y1="932.00" x2="444.11" y2="932.00" stroke="#0404f2" stroke-width="2.8" stroke-linecap="round"/><line x1="429.91" y1="966.40" x2="444.11" y2="966.40" stroke="#0404f2" stroke-width="2.8" stroke-linecap="round"/><line x1="520.68" y1="891.40" x2="520.68" y2="959.00" stroke="#0404f2" stroke-width="2.4"/><line x1="513.58" y1="891.40" x2="527.78" y2="891.40" stroke="#0404f2" stroke-width="2.8" stroke-linecap="round"/><line x1="513.58" y1="959.00" x2="527.78" y2="959.00" stroke="#0404f2" stroke-width="2.8" stroke-linecap="round"/><line x1="604.35" y1="934.70" x2="604.35" y2="958.70" stroke="#0404f2" stroke-width="2.4"/><line x1="597.25" y1="934.70" x2="611.45" y2="934.70" stroke="#0404f2" stroke-width="2.8" stroke-linecap="round"/><line x1="597.25" y1="958.70" x2="611.45" y2="958.70" stroke="#0404f2" stroke-width="2.8" stroke-linecap="round"/><line x1="688.02" y1="917.60" x2="688.02" y2="969.60" stroke="#0404f2" stroke-width="2.4"/><line x1="680.92" y1="917.60" x2="695.12" y2="917.60" stroke="#0404f2" stroke-width="2.8" stroke-linecap="round"/><line x1="680.92" y1="969.60" x2="695.12" y2="969.60" stroke="#0404f2" stroke-width="2.8" stroke-linecap="round"/>
<path d="M354.70,804.90 L355.26,799.16 L351.74,799.16 L352.30,804.90 Z" fill="#000"/><circle cx="353.50" cy="799.16" r="1.76" fill="#000"/><path d="M352.30,804.90 L351.74,810.64 L355.26,810.64 L354.70,804.90 Z" fill="#000"/><circle cx="353.50" cy="810.64" r="1.76" fill="#000"/><path d="M354.06,805.96 L359.84,803.52 L358.18,800.42 L352.94,803.84 Z" fill="#000"/><circle cx="359.01" cy="801.97" r="1.76" fill="#000"/><path d="M354.06,803.84 L348.82,800.42 L347.16,803.52 L352.94,805.96 Z" fill="#000"/><circle cx="347.99" cy="801.97" r="1.76" fill="#000"/><path d="M352.94,803.84 L347.16,806.28 L348.82,809.38 L354.06,805.96 Z" fill="#000"/><circle cx="347.99" cy="807.83" r="1.76" fill="#000"/><path d="M352.94,805.96 L358.18,809.38 L359.84,806.28 L354.06,803.84 Z" fill="#000"/><circle cx="359.01" cy="807.83" r="1.76" fill="#000"/><circle cx="353.50" cy="804.90" r="2.16" fill="#000"/>
<line x1="424.5" y1="673.6" x2="462.4" y2="673.6" stroke="#f020f0" stroke-width="2"/><circle cx="443.40" cy="673.80" r="6.40" fill="#9c9c9c"/><circle cx="443.40" cy="673.80" r="3.39" fill="#ff00ff"/>
<line x1="424.5" y1="717.2" x2="462.4" y2="717.2" stroke="#0404f2" stroke-width="2" stroke-dasharray="6.4,2.1"/><circle cx="443.40" cy="717.20" r="6.90" fill="#0404f2"/>
<line x1="424.5" y1="759" x2="462.4" y2="759" stroke="#f70080" stroke-width="2" stroke-dasharray="6.4,2.1"/><path d="M436.90,765.50 L449.90,765.50 L443.40,752.50 Z" fill="#f70080"/>
<line x1="424.5" y1="796.8" x2="462.4" y2="796.8" stroke="#a26a30" stroke-width="2"/><path d="M436.80,790.20 L450.00,790.20 L443.40,803.40 Z" fill="#a26a30"/>
<line x1="424.5" y1="840.5" x2="462.4" y2="840.5" stroke="#000" stroke-width="2"/><rect x="436.70" y="834.00" width="13.40" height="13.40" fill="#000"/>
<text x="607.40" y="42.70" font-size="29.8" font-weight="normal" textLength="341.43" lengthAdjust="spacingAndGlyphs">Diminazene aceturate 25 mg kg</text>
<text x="954.54" y="32.80" font-size="20.5" font-weight="normal" textLength="16.47" lengthAdjust="spacingAndGlyphs">-1</text>
<text x="609.49" y="80.60" font-size="29.8" font-weight="normal" textLength="171.31" lengthAdjust="spacingAndGlyphs">Positive control</text>
<text x="609.49" y="120.60" font-size="29.8" font-weight="normal" textLength="180.47" lengthAdjust="spacingAndGlyphs">Negative control</text>
<text x="433.07" y="22.00" font-size="28" font-weight="bold" textLength="33.64" lengthAdjust="spacingAndGlyphs">(a)</text>
<text x="345.10" y="499.20" font-size="28" font-weight="bold" textLength="256.15" lengthAdjust="spacingAndGlyphs">Days post-inoculation</text>
<text x="483.40" y="683.60" font-size="29.8" font-weight="normal" textLength="195.70" lengthAdjust="spacingAndGlyphs">Allicin 100 mg kg</text>
<text x="685.54" y="674.00" font-size="20.5" font-weight="normal" textLength="16.47" lengthAdjust="spacingAndGlyphs">-1</text>
<text x="481.31" y="725.80" font-size="29.8" font-weight="normal" textLength="178.26" lengthAdjust="spacingAndGlyphs">Negative control</text>
<text x="481.86" y="768.70" font-size="29.8" font-weight="normal" textLength="180.57" lengthAdjust="spacingAndGlyphs">PYR 125 mg kg</text>
<text x="668.86" y="758.60" font-size="20.5" font-weight="normal" textLength="16.10" lengthAdjust="spacingAndGlyphs">-1</text>
<text x="693.03" y="768.70" font-size="29.8" font-weight="normal" textLength="54.39" lengthAdjust="spacingAndGlyphs">(IM)</text>
<text x="483.77" y="805.70" font-size="29.8" font-weight="normal" textLength="165.14" lengthAdjust="spacingAndGlyphs">PYR 85 mg kg</text>
<text x="654.21" y="796.60" font-size="20.5" font-weight="normal" textLength="16.83" lengthAdjust="spacingAndGlyphs">-1</text>
<text x="680.68" y="805.70" font-size="29.8" font-weight="normal" textLength="51.68" lengthAdjust="spacingAndGlyphs">(IM)</text>
<text x="740.00" y="805.70" font-size="29.8" font-weight="normal" textLength="16.81" lengthAdjust="spacingAndGlyphs">+</text>
<text x="762.46" y="805.70" font-size="29.8" font-weight="normal" textLength="151.13" lengthAdjust="spacingAndGlyphs">DA 10 mg kg</text>
<text x="919.10" y="796.60" font-size="20.5" font-weight="normal" textLength="18.79" lengthAdjust="spacingAndGlyphs">-1</text>
<text x="944.47" y="805.70" font-size="29.8" font-weight="normal" textLength="52.54" lengthAdjust="spacingAndGlyphs">(SC)</text>
<text x="482.10" y="848.60" font-size="29.8" font-weight="normal" textLength="169.69" lengthAdjust="spacingAndGlyphs">Positive control</text>
<text x="396.28" y="634.60" font-size="28" font-weight="bold" textLength="34.98" lengthAdjust="spacingAndGlyphs">(b)</text>
<text x="309.70" y="1209.00" font-size="28" font-weight="bold" textLength="252.95" lengthAdjust="spacingAndGlyphs">Days post-inoculation</text>
</svg>
</body></html>
